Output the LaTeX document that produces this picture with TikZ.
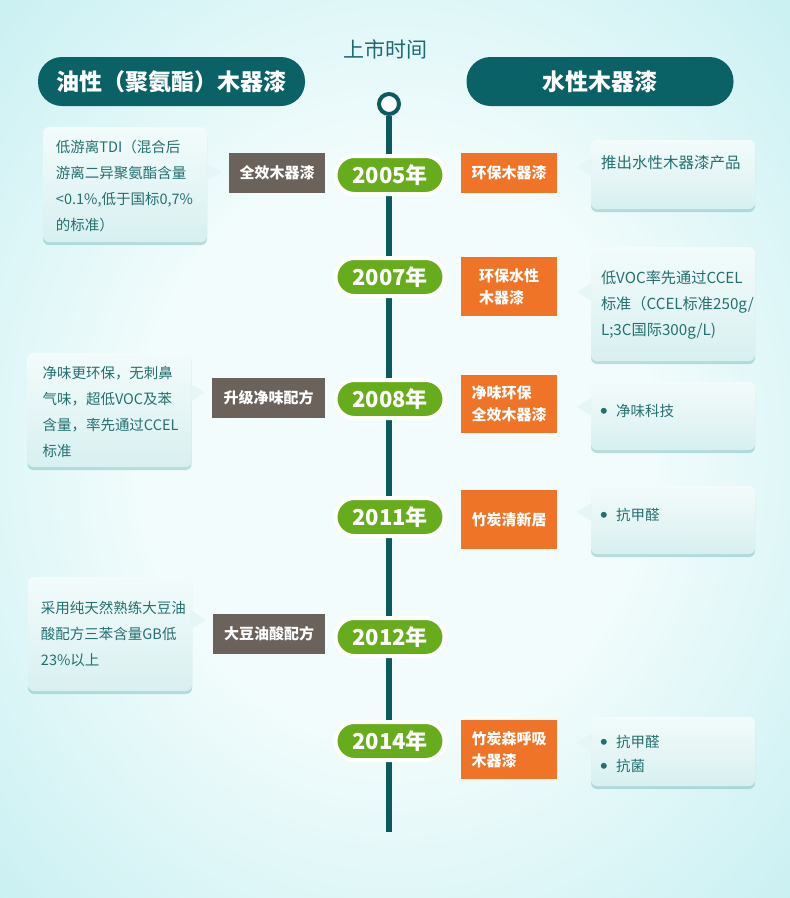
\documentclass[tikz,border=0pt]{standalone}
\usepackage{fontspec}
\setmainfont{Noto Sans CJK SC}
\usepackage{tikz}
\usetikzlibrary{positioning,calc,shadows}

\definecolor{headteal}{HTML}{0B6266}
\definecolor{lineteal}{HTML}{0A5A5F}
\definecolor{titleteal}{HTML}{1D6B70}
\definecolor{yeargreen}{HTML}{67AC1B}
\definecolor{waterorange}{HTML}{EF7428}
\definecolor{oilgrey}{HTML}{6A625B}
\definecolor{notecol}{HTML}{23706F}
\definecolor{notetop}{HTML}{F3FBFB}
\definecolor{notebot}{HTML}{D8F0F0}
\definecolor{notetip}{HTML}{E6F6F6}
\definecolor{noteshadow}{HTML}{5FAFB1}
\definecolor{bgin}{HTML}{F2FCFC}
\definecolor{bgmid}{HTML}{C9F0F2}
\definecolor{bgout}{HTML}{98DFE4}

\pgfdeclareradialshading{bgshade}{\pgfpoint{0bp}{0bp}}{%
  color(0bp)=(bgin); color(16bp)=(bgin); color(36bp)=(bgmid); color(50bp)=(bgout)}

\begin{document}
\begin{tikzpicture}[
  x=1pt, y=-1pt,
  header/.style={fill=headteal, text=white, rounded corners=24pt, minimum width=267pt,
    minimum height=49pt, font=\fontsize{23}{26}\selectfont\bfseries},
  year/.style={fill=yeargreen, draw=white, line width=4pt, rounded corners=19pt,
    minimum width=109pt, minimum height=38pt, text=white, font=\fontsize{22}{26}\selectfont\bfseries},
  oiltag/.style={fill=oilgrey, text=white, minimum height=40pt, inner sep=0pt,
    font=\fontsize{15}{22}\selectfont\bfseries},
  watertag/.style={fill=waterorange, text=white, minimum width=96pt, minimum height=40pt,
    align=left, inner sep=0pt, font=\fontsize{15}{22}\selectfont\bfseries},
  notebox/.style={top color=notetop, bottom color=notebot, rounded corners=6pt,
    minimum width=164pt, inner sep=0pt,
    drop shadow={shadow xshift=0pt, shadow yshift=-3pt, fill=noteshadow, opacity=0.4}},
  notelabel/.style={text=notecol, align=left, inner sep=0pt,
    font=\fontsize{14.5}{26}\selectfont},
  tline/.style={line width=6pt, draw=lineteal}
]
\useasboundingbox (0,0) rectangle (790,898);
\shade[shading=bgshade] (0,0) rectangle (790,898);

% title and column heads
\node[text=titleteal, font=\fontsize{21}{24}\selectfont] (title) at (385,49) {上市时间};
\node[header] (oilhead) at (171.5,81.5) {油性（聚氨酯）木器漆};
\node[header] (waterhead) at (600,81.5) {水性木器漆};

% time line
\node[circle, draw=lineteal, line width=4pt, fill=white, minimum size=20pt, inner sep=0pt] (top) at (389,104) {};
\coordinate (lineend) at (389,832);
\draw[tline] (top.south) -- (lineend);

% years
\node[year] (y2005) at (390,175) {2005年};
\node[year] (y2007) at (390,277) {2007年};
\node[year] (y2008) at (390,399) {2008年};
\node[year] (y2011) at (390,517) {2011年};
\node[year] (y2012) at (390,637) {2012年};
\node[year] (y2014) at (390,741) {2014年};

% water based products
\node[watertag] (w2005) at (509,173) {环保木器漆};
\node[watertag, minimum height=59pt] (w2007) at (509,286.5) {环保水性\\木器漆};
\node[watertag, minimum height=58pt] (w2008) at (509,404) {净味环保\\全效木器漆};
\node[watertag, minimum height=59pt] (w2011) at (509,519.5) {竹炭清新居};
\node[watertag, minimum height=59pt] (w2014) at (509,749.5) {竹炭森呼吸\\木器漆};

% oil based products
\node[oiltag, minimum width=96pt] (o2005) at (277,173) {全效木器漆};
\node[oiltag, minimum width=113pt] (o2008) at (268.5,398) {升级净味配方};
\node[oiltag, minimum width=112pt] (o2012) at (269,633.5) {大豆油酸配方};

% notes, left side
\node[notebox, minimum height=115pt] (n2005oil) at (125,184.5) {};
\fill[notetip] (n2005oil.north east) ++(-1,36) -- ++(16,9) -- ++(-16,9) -- cycle;
\node[notelabel, below right=13pt and 13pt of n2005oil.north west] (t2005oil)
  {低游离TDI（混合后\\游离二异聚氨酯含量\\<0.1\%,低于国标0,7\%\\的标准）};

\node[notebox, minimum height=114pt] (n2008oil) at (109.5,410) {};
\fill[notetip] (n2008oil.north east) ++(-1,31) -- ++(14,9) -- ++(-14,9) -- cycle;
\node[notelabel, below right=13pt and 15pt of n2008oil.north west] (t2008oil)
  {净味更环保，无刺鼻\\气味，超低VOC及苯\\含量，率先通过CCEL\\标准};

\node[notebox, minimum height=114pt] (n2012oil) at (110,634) {};
\fill[notetip] (n2012oil.north east) ++(-1,34) -- ++(15,9) -- ++(-15,9) -- cycle;
\node[notelabel, below right=24pt and 13pt of n2012oil.north west] (t2012oil)
  {采用纯天然熟练大豆油\\酸配方三苯含量GB低\\23\%以上};

% notes, right side
\node[notebox, minimum height=69pt] (n2005water) at (673,174.5) {};
\fill[notetip] (n2005water.north west) ++(1,18) -- ++(-15,9) -- ++(15,9) -- cycle;
\node[notelabel, below right=15pt and 10pt of n2005water.north west, font=\fontsize{15.5}{26}\selectfont] (t2005water)
  {推出水性木器漆产品};

\node[notebox, minimum height=114pt] (n2007water) at (673,304) {};
\fill[notetip] (n2007water.north west) ++(1,36) -- ++(-15,9) -- ++(15,9) -- cycle;
\node[notelabel, below right=24pt and 10pt of n2007water.north west, font=\fontsize{15.2}{26}\selectfont] (t2007water)
  {低VOC率先通过CCEL\\标准（CCEL标准250g/\\L;3C国际300g/L)};

\node[notebox, minimum height=68pt] (n2008water) at (673,416) {};
\fill[notetip] (n2008water.north west) ++(1,16) -- ++(-15,9) -- ++(15,9) -- cycle;
\fill[notecol] (n2008water.north west) ++(13,29) circle (3pt);
\node[notelabel, below right=22pt and 25pt of n2008water.north west] (t2008water)
  {净味科技};

\node[notebox, minimum height=68pt] (n2011water) at (673,520) {};
\fill[notetip] (n2011water.north west) ++(1,17) -- ++(-15,9) -- ++(15,9) -- cycle;
\fill[notecol] (n2011water.north west) ++(13,29) circle (3pt);
\node[notelabel, below right=22pt and 25pt of n2011water.north west] (t2011water)
  {抗甲醛};

\node[notebox, minimum height=69pt] (n2014water) at (673,751.5) {};
\fill[notetip] (n2014water.north west) ++(1,17) -- ++(-15,9) -- ++(15,9) -- cycle;
\fill[notecol] (n2014water.north west) ++(13,25) circle (3pt);
\fill[notecol] (n2014water.north west) ++(13,49) circle (3pt);
\node[notelabel, below right=18pt and 25pt of n2014water.north west, font=\fontsize{14.5}{24}\selectfont] (t2014water)
  {抗甲醛\\抗菌};
\end{tikzpicture}
\end{document}
